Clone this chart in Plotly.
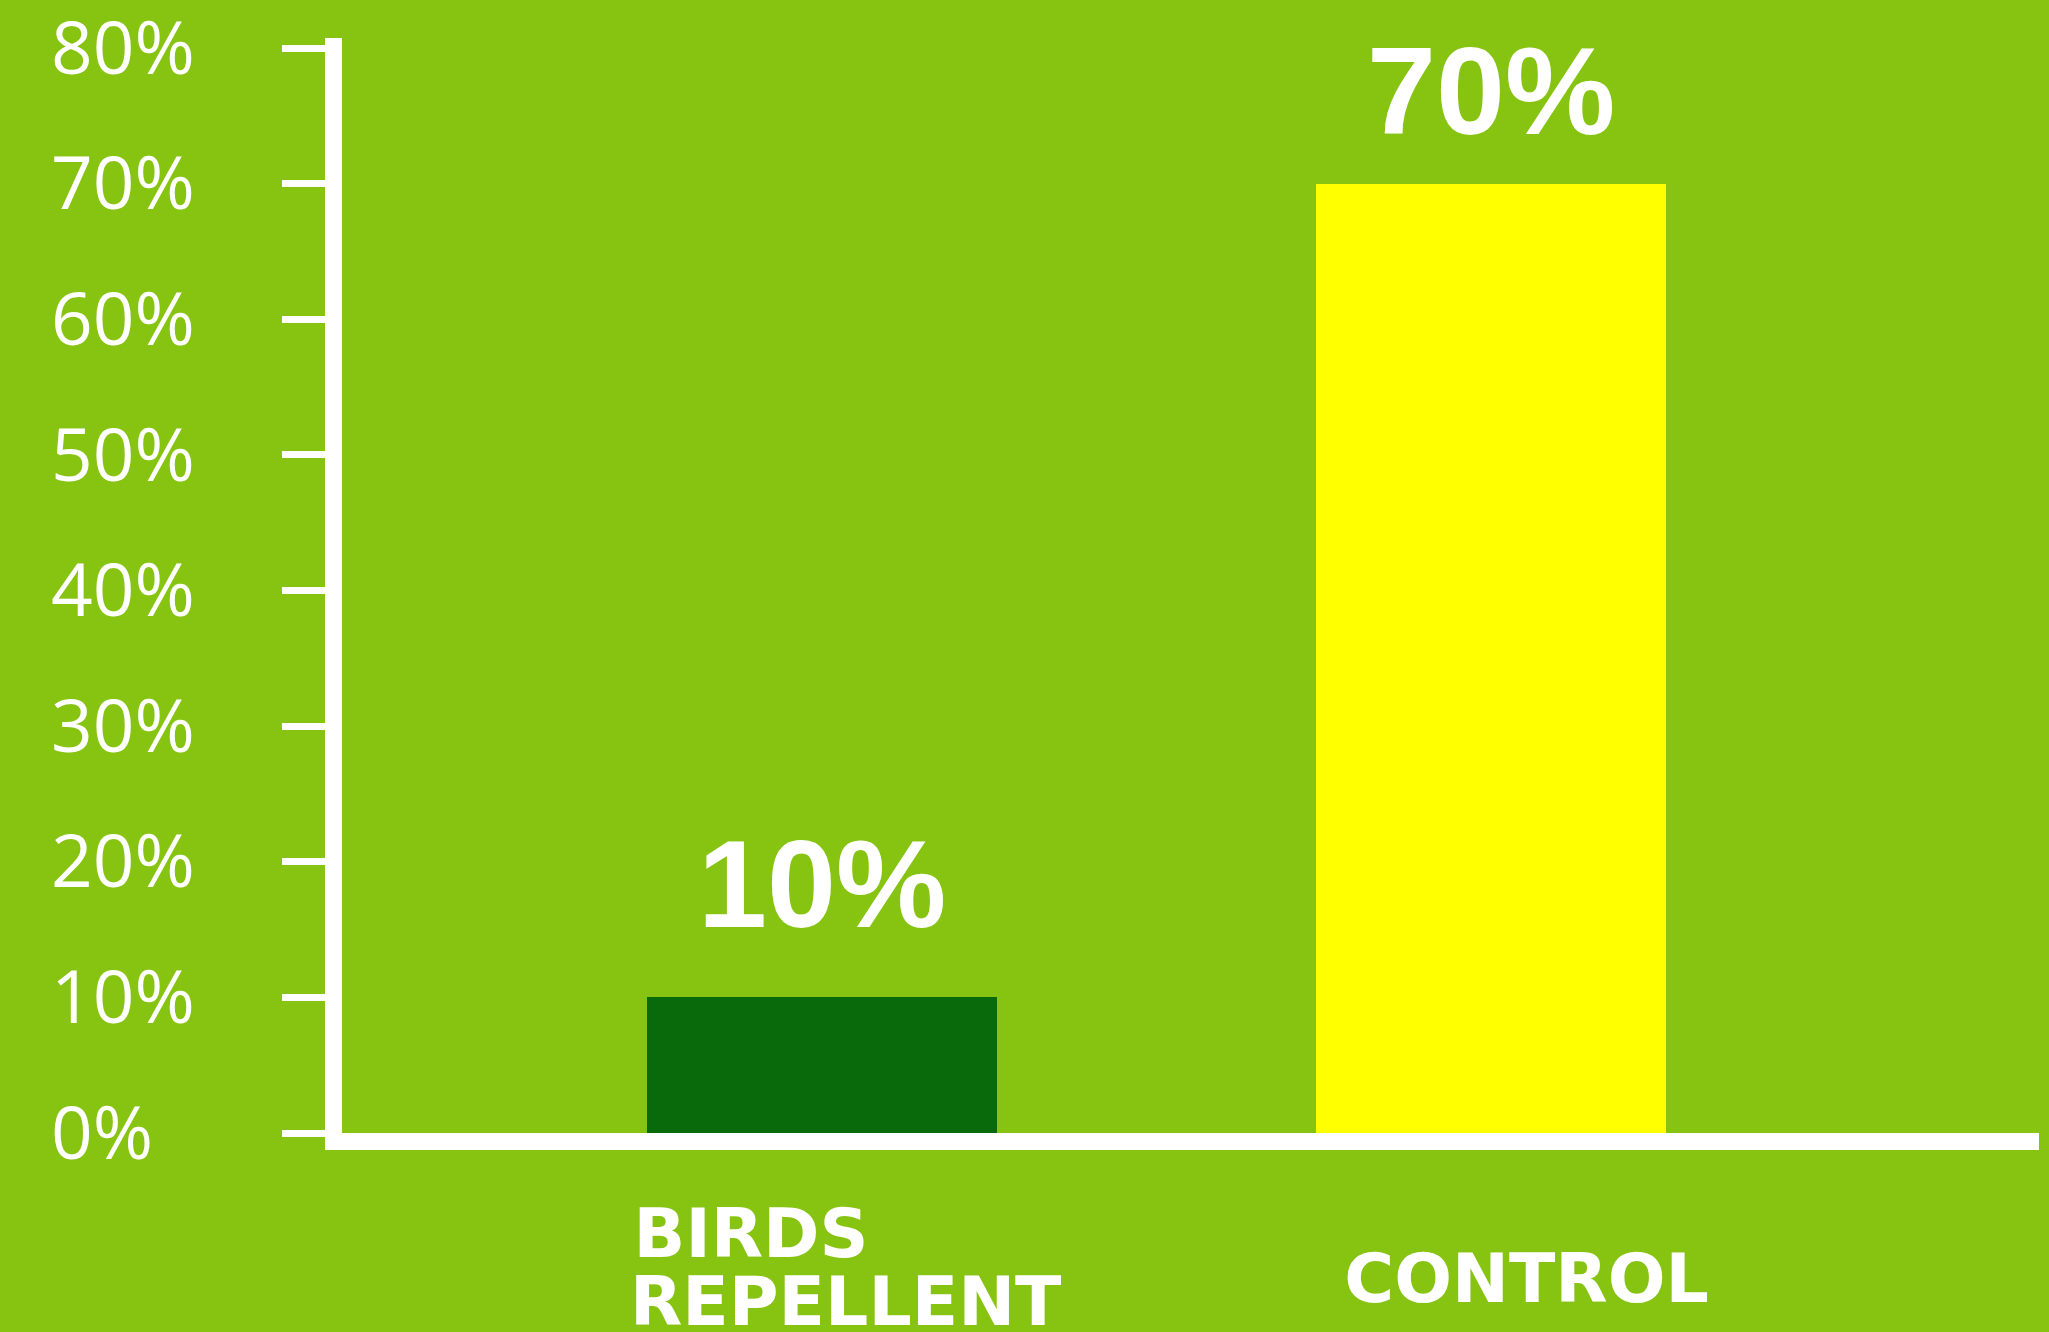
import plotly.graph_objects as go

categories = ["BIRDS REPELLENT", "CONTROL"]
values = [10, 70]
NB = "&nbsp;"
label_birds = (f"<span style='font-size:68px'>{NB*2}BIRDS{NB*8}</span>"
               f"<br><span style='font-size:68px'>{NB*2}REPELLENT</span>")
label_control = f"<span style='font-size:68px'>{NB*3}CONTROL</span>"
bar_colors = ["#096A0B", "#FFFF00"]
label_yshift = [42, 22]
bg = "#87C311"

W, H = 2049, 1332
PLOT_TOP, PLOT_BOTTOM = 38, 1133
PLOT_LEFT, PLOT_RIGHT = 342, 2039
Y_MAX = 80.75
X_RANGE = [-0.7175, 1.819]

fig = go.Figure()
fig.add_trace(go.Bar(
    x=categories, y=values, marker=dict(color=bar_colors, line=dict(width=0)),
    width=0.523, hoverinfo="skip", showlegend=False,
))
# invisible traces for overlay axes (left-aligned y labels, second category label row)
fig.add_trace(go.Scatter(x=categories, y=values, yaxis="y2", mode="markers",
                         marker=dict(opacity=0), showlegend=False, hoverinfo="skip"))
fig.add_trace(go.Scatter(x=categories, y=values, xaxis="x2", mode="markers",
                         marker=dict(opacity=0), showlegend=False, hoverinfo="skip"))

for c, v, s in zip(categories, values, label_yshift):
    fig.add_annotation(x=c, y=v, text=f"<b>{v}%</b>", showarrow=False,
                       yanchor="bottom", yshift=s,
                       font=dict(family="Liberation Sans", size=124, color="white"))

cat_font = dict(family="DejaVu Sans", size=52, color="white", weight=700)

fig.update_layout(
    width=W, height=H,
    paper_bgcolor=bg, plot_bgcolor="rgba(0,0,0,0)",
    margin=dict(l=0, r=W - PLOT_RIGHT, t=PLOT_TOP, b=H - PLOT_BOTTOM, autoexpand=False),
    bargap=0,
    xaxis=dict(domain=[PLOT_LEFT / PLOT_RIGHT, 1], range=X_RANGE,
               showline=True, linecolor="white", linewidth=17,
               showgrid=False, zeroline=False, ticks="", automargin=False,
               tickmode="array", tickvals=categories, ticktext=[label_birds, ""],
               tickfont=cat_font, ticklabelstandoff=45),
    xaxis2=dict(overlaying="x", range=X_RANGE, side="bottom", anchor="y",
                showline=False, showgrid=False, zeroline=False, ticks="",
                automargin=False, tickmode="array", tickvals=categories,
                ticktext=["", label_control], tickfont=cat_font,
                ticklabelstandoff=116),
    yaxis=dict(range=[0, Y_MAX],
               showline=True, linecolor="white", linewidth=17, automargin=False,
               showgrid=False, zeroline=False, ticks="outside", ticklen=43,
               tickwidth=7, tickcolor="white", dtick=10, tick0=0,
               showticklabels=False),
    yaxis2=dict(range=[0, Y_MAX], overlaying="y", anchor="free",
                position=47 / PLOT_RIGHT, side="left", ticklabelposition="inside",
                ticklabeloverflow="allow",
                showline=False, showgrid=False, zeroline=False, ticks="",
                dtick=10, tick0=0, ticksuffix="%", ticklabelstandoff=0,
                automargin=False,
                tickfont=dict(family="Open Sans", size=73, color="white")),
)

fig.write_html("out.html", config={"displayModeBar": False},
               post_script="document.body.style.margin='0';")
